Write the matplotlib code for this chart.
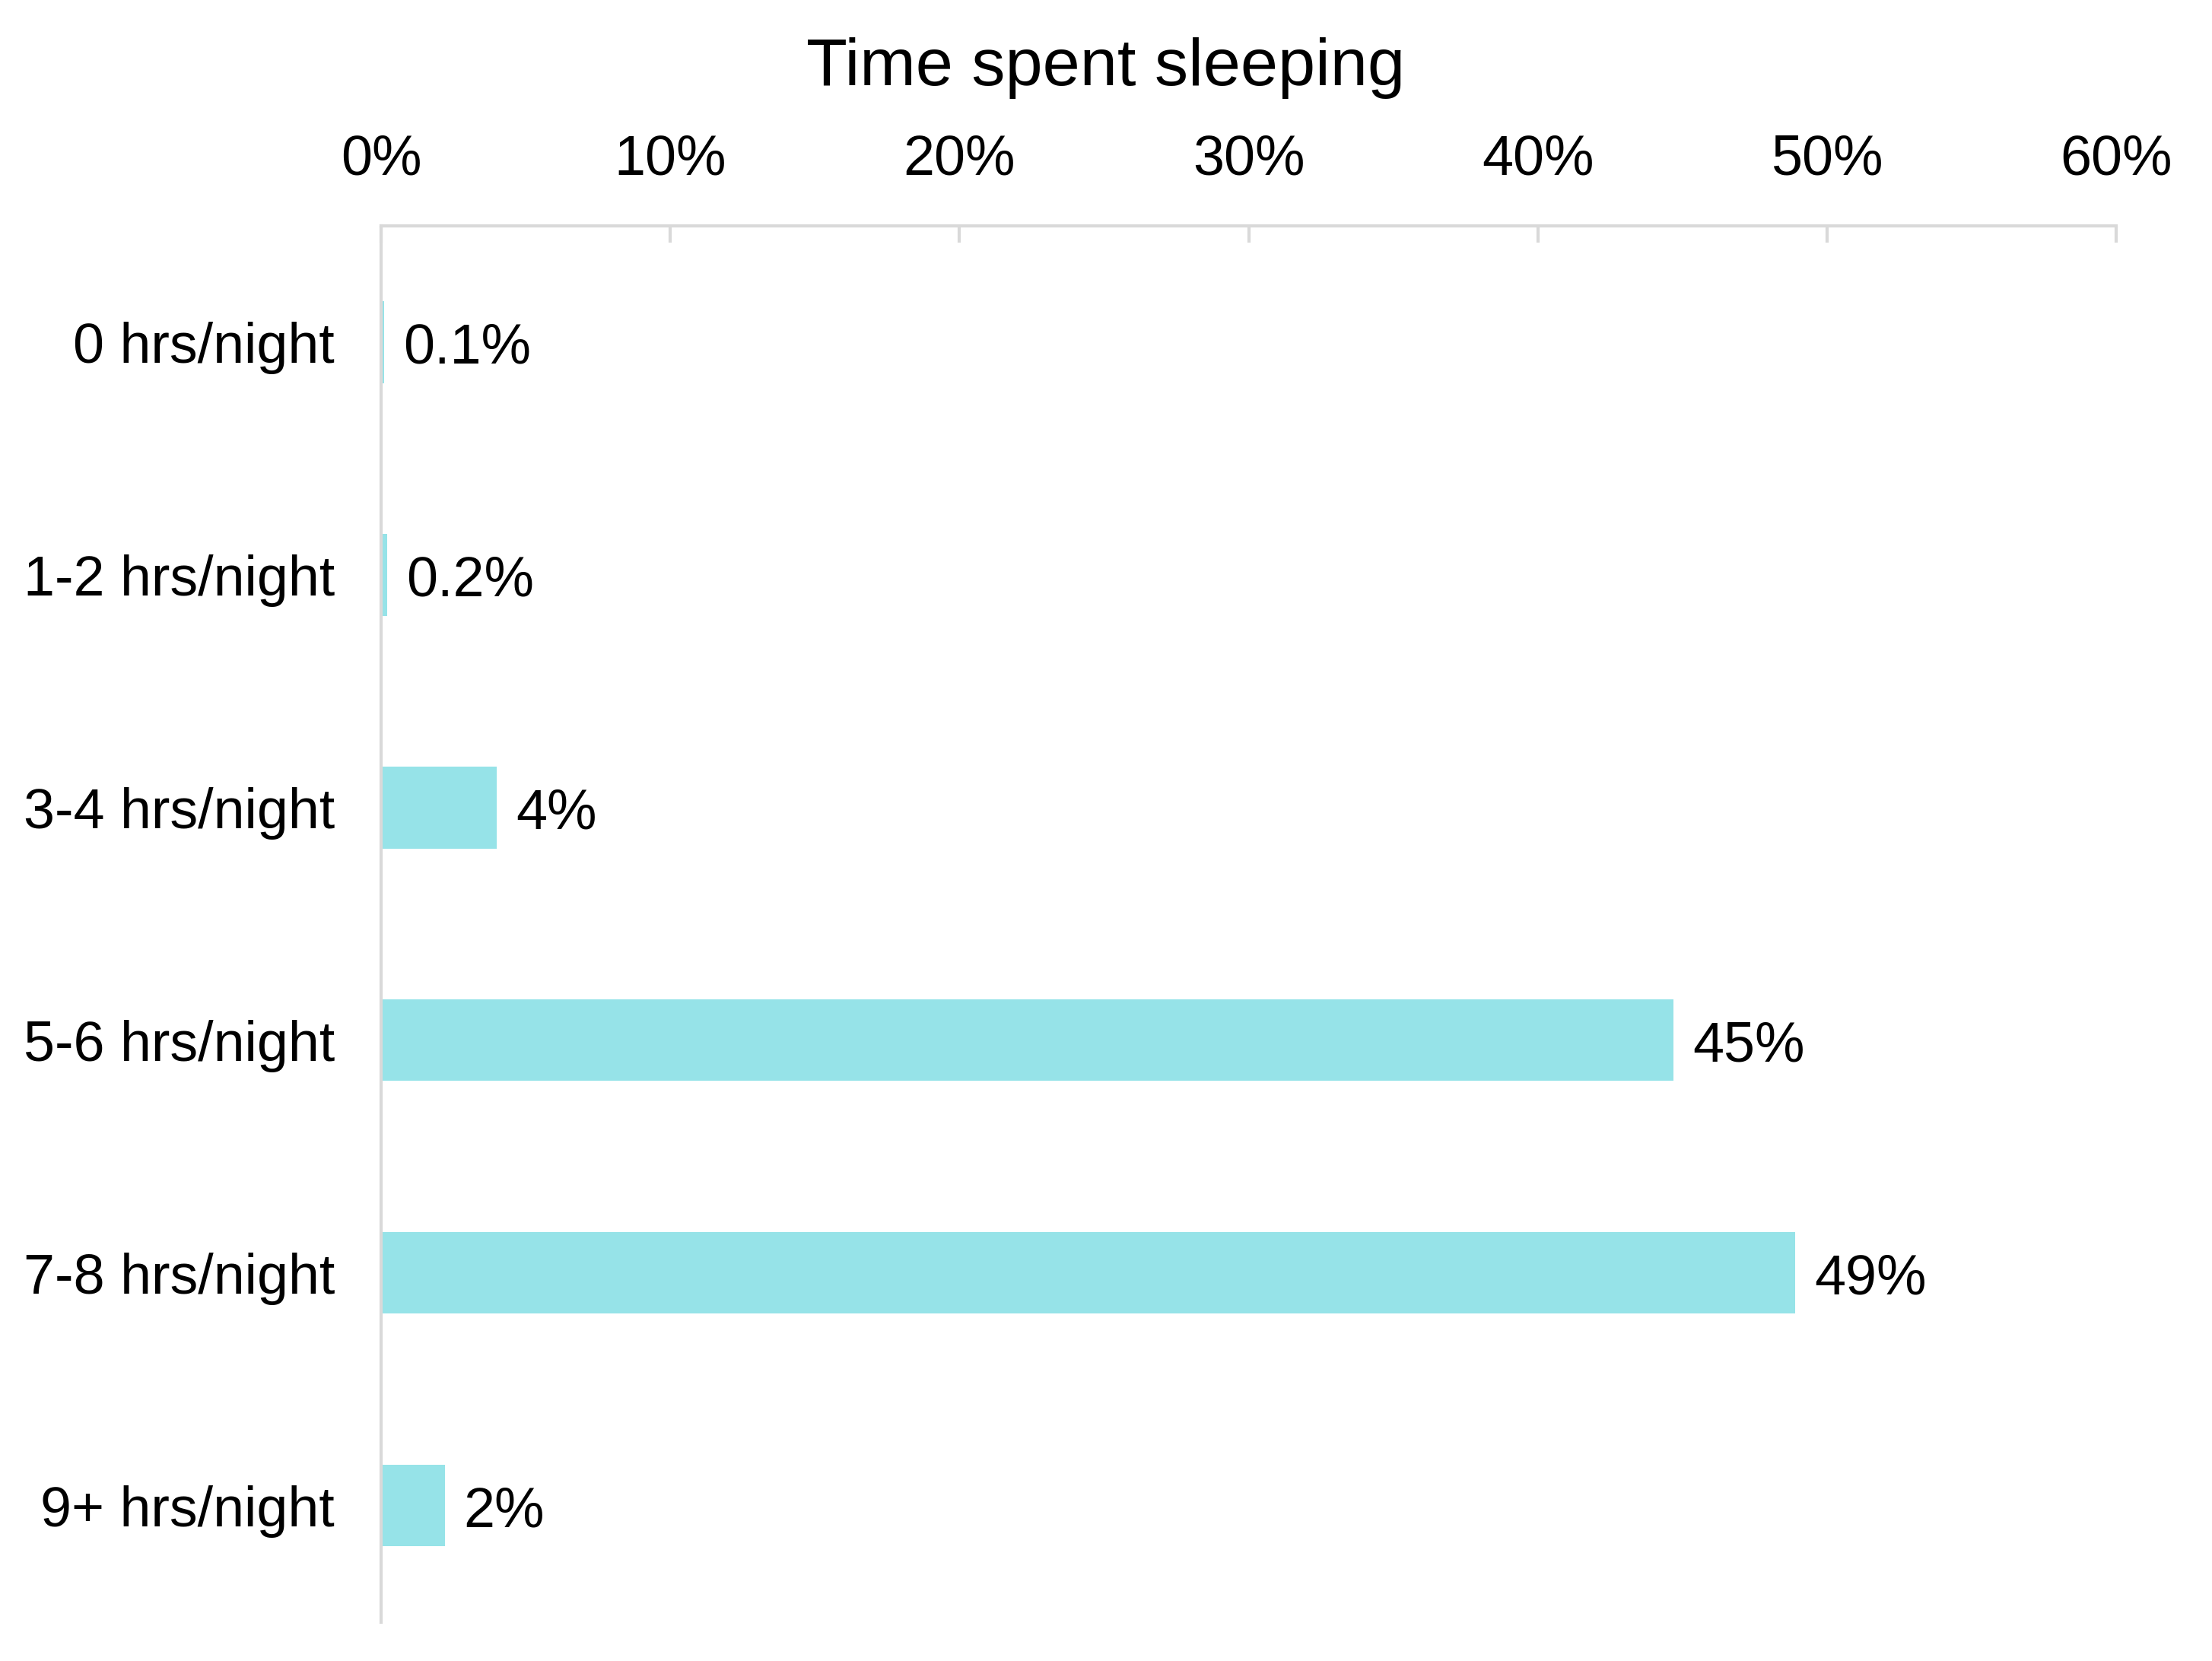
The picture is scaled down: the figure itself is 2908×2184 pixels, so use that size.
import matplotlib.pyplot as plt
from matplotlib.ticker import PercentFormatter

plt.rcParams["font.family"] = ["Liberation Sans", "DejaVu Sans"]

categories = ["0 hrs/night", "1-2 hrs/night", "3-4 hrs/night",
              "5-6 hrs/night", "7-8 hrs/night", "9+ hrs/night"]
values = [0.1, 0.2, 4.0, 44.7, 48.9, 2.2]
value_labels = ["0.1%", "0.2%", "4%", "45%", "49%", "2%"]
xticks = [0, 10, 20, 30, 40, 50, 60]

fig = plt.figure(figsize=(14.54, 10.92), dpi=200)
ax = fig.add_axes([0.1723, 0.0234, 0.9567 - 0.1723, 0.864 - 0.0234])

ypos = list(range(len(categories)))
ax.barh(ypos, values, height=0.35, color="#96E3E8")

for y, v, lab in zip(ypos, values, value_labels):
    ax.annotate(lab, (v, y), xytext=(9, -3), textcoords="offset points",
                va="center", ha="left", fontsize=26.5, color="black")

ax.set_xlim(0, 60)
ax.set_ylim(len(categories) - 0.5, -0.5)
ax.set_yticks(ypos)
ax.set_yticklabels(categories)
ax.set_xticks(xticks)
ax.xaxis.set_major_formatter(PercentFormatter(decimals=0))
ax.xaxis.tick_top()

for s in ["right", "bottom"]:
    ax.spines[s].set_visible(False)
for s in ["top", "left"]:
    ax.spines[s].set_color("#D9D9D9")
    ax.spines[s].set_linewidth(1.5)

ax.tick_params(axis="x", direction="in", length=8, width=1.5, color="#D9D9D9",
               labelsize=26.5, pad=19)
ax.tick_params(axis="y", length=0, labelsize=26.5, pad=22)

fig.text(0.5, 0.959, "Time spent sleeping", ha="center", va="center", fontsize=31.75)

fig.savefig("out.png", dpi=200, facecolor="white")
